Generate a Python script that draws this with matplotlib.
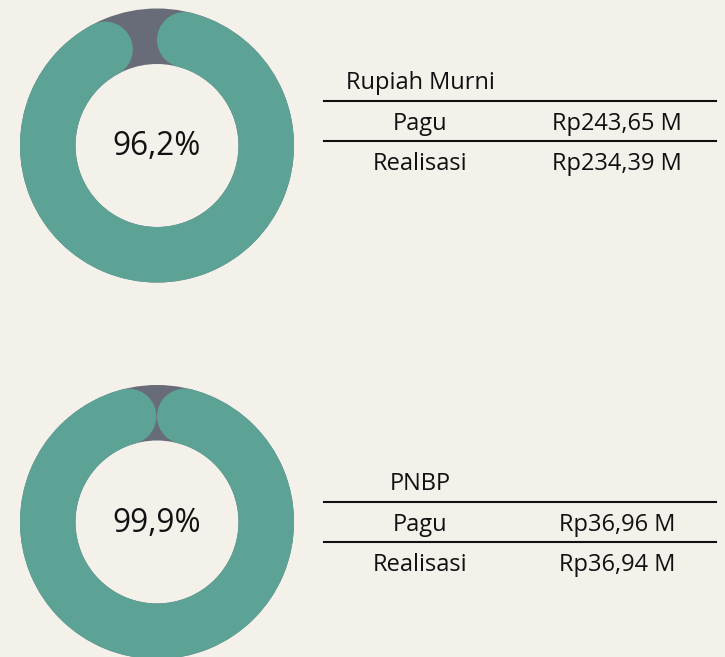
import matplotlib.pyplot as plt
import numpy as np
from matplotlib.patches import Wedge, Circle, Polygon

plt.rcParams["font.family"] = ["Open Sans", "DejaVu Sans"]

# data
sources = ["Rupiah Murni", "PNBP"]
pagu = [243.65, 36.96]
realisasi = [234.39, 36.94]
percent = [96.2, 99.9]

BG = "#f4f1eb"
TEAL = "#5da395"
GREY = "#686c78"
INK = "#111111"


def fmt_rp(v):
    return "Rp" + f"{v:.2f}".replace(".", ",") + " M"


def donut(ax, cx, cy, pct, r_out=137, r_in=81.5):
    w = r_out - r_in
    r_mid = (r_out + r_in) / 2
    ax.add_patch(Wedge((cx, cy), r_out, 0, 360, width=w, color=GREY, lw=0))
    # clockwise from 12 o'clock, rounded ends kept inside the span
    d = np.degrees(np.arcsin((w / 2) / r_mid))
    a1, a2 = d, pct / 100 * 360 - d
    t = np.radians(np.linspace(a1, a2, 400))
    outer = np.column_stack([cx + r_out * np.sin(t), cy - r_out * np.cos(t)])
    inner = np.column_stack([cx + r_in * np.sin(t[::-1]), cy - r_in * np.cos(t[::-1])])
    ax.add_patch(Polygon(np.vstack([outer, inner]), closed=True, color=TEAL, lw=0))
    for a in (a1, a2):
        ar = np.radians(a)
        ax.add_patch(Circle((cx + r_mid * np.sin(ar), cy - r_mid * np.cos(ar)), w / 2,
                            color=TEAL, lw=0))
    ax.text(cx, cy + 1, f"{pct:.1f}".replace(".", ",") + "%", ha="center",
            va="center", fontsize=22.7, color=INK)


fig = plt.figure(figsize=(7.25, 6.57), dpi=100, facecolor=BG)
ax = fig.add_axes([0, 0, 1, 1])
ax.set_facecolor(BG)
ax.set_xlim(0, 725)
ax.set_ylim(657, 0)
ax.set_aspect("equal")
ax.axis("off")

fs = 17
for i, name in enumerate(sources):
    donut(ax, 157, 145.5 + i * 376.5, percent[i])
    off = i * 401
    ax.text(420, 89 + off, name, ha="center", va="baseline", fontsize=fs, color=INK)
    ax.plot([324, 716], [100.7 + off, 100.7 + off], color=INK, lw=1.5)
    ax.plot([324, 716], [140.7 + off, 140.7 + off], color=INK, lw=1.5)
    ax.text(420, 130 + off, "Pagu", ha="center", va="baseline", fontsize=fs, color=INK)
    ax.text(617, 130 + off, fmt_rp(pagu[i]), ha="center", va="baseline", fontsize=fs,
            color=INK)
    ax.text(420, 170 + off, "Realisasi", ha="center", va="baseline", fontsize=fs, color=INK)
    ax.text(617, 170 + off, fmt_rp(realisasi[i]), ha="center", va="baseline", fontsize=fs,
            color=INK)

fig.savefig("out.png", dpi=100, facecolor=BG)
